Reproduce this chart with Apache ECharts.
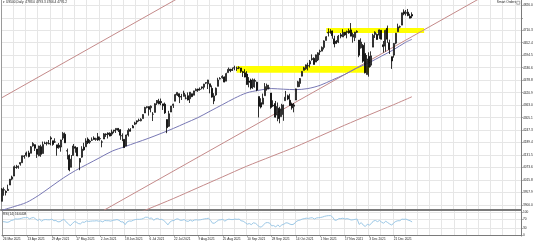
<!DOCTYPE html>
<html><head><meta charset="utf-8">
<script src="https://cdn.jsdelivr.net/npm/echarts@6/dist/echarts.min.js"></script>
<style>html,body{margin:0;padding:0;background:#fff}#c{width:536px;height:243px}</style>
</head><body><div id="c"></div>
<script>
// ---- categories (trading days) ----
const mar21=[26,29,30,31];
const apr21=[1,2,5,6,7,8,9,12,13,14,15,16,19,20,21,22,23,26,27,28,29,30];
const may21=[3,4,5,6,7,10,11,12,13,14,17,18,19,20,21,24,25,26,27,28,31];
const jun21=[1,2,3,4,7,8,9,10,11,14,15,16,17,18,21,22,23,24,25,28,29,30];
const jul21=[1,2,5,6,7,8,9,12,13,14,15,16,19,20,21,22,23,26,27,28,29,30];
const aug21=[2,3,4,5,6,9,10,11,12,13,16,17,18,19,20,23,24,25,26,27,30,31];
const sep21=[1,2,3,6,7,8,9,10,13,14,15,16,17,20,21,22,23,24,27,28,29,30];
const oct21=[1,4,5,6,7,8,11,12,13,14,15,18,19,20,21,22,25,26,27,28,29];
const nov21=[1,2,3,4,5,8,9,10,11,12,15,16,17,18,19,22,23,24,25,26,29,30];
const dec21=[1,2,3,6,7,8,9,10,13,14,15,16,17,20,21,22,23,24,27,28,29,30,31];
const jan22=[3];

// ---- OHLC ----
const opens=[3917.1,3969.3,3963.3,3967.3,3992.8,4020.0,4034.4,4075.6,4074.3,4089.9,
4096.1,4124.7,4130.1,4141.6,4139.8,4174.1,4179.8,4159.2,4128.4,4170.5,
4138.8,4185.0,4188.3,4185.1,4206.1,4198.1,4192.0,4179.0,4177.1,4169.1,
4210.3,4228.3,4150.3,4130.6,4075.0,4129.6,4169.9,4165.9,4098.5,4122.0,
4168.6,4170.2,4205.9,4191.6,4201.9,4210.8,4204.0,4216.5,4206.8,4191.4,
4206.1,4229.3,4233.8,4233.0,4228.6,4242.9,4248.3,4255.3,4248.9,4220.4,
4204.8,4173.4,4224.6,4249.3,4257.0,4274.5,4284.9,4293.2,4290.7,4300.7,
4326.6,4352.0,4356.5,4351.0,4321.1,4329.4,4372.4,4381.1,4380.1,4369.0,
4367.4,4296.4,4265.1,4331.1,4361.3,4381.2,4409.6,4416.4,4403.0,4403.6,
4395.1,4406.9,4392.7,4416.0,4408.9,4429.1,4437.8,4435.8,4442.2,4446.1,
4464.8,4461.7,4462.1,4440.9,4382.4,4410.6,4450.3,4484.4,4490.5,4493.8,
4474.1,4513.8,4529.8,4528.8,4534.5,4532.4,4535.0,4535.4,4518.1,4513.0,
4506.9,4474.8,4479.3,4447.5,4477.1,4469.7,4403.0,4374.5,4367.4,4406.8,
4438.0,4442.1,4419.5,4362.4,4370.7,4317.2,4348.8,4309.9,4319.6,4383.7,
4406.5,4385.4,4368.3,4358.0,4386.8,4447.7,4463.7,4497.3,4524.4,4532.2,
4546.1,4553.7,4578.7,4580.2,4562.8,4572.9,4610.6,4613.3,4630.7,4662.9,
4699.3,4701.5,4707.3,4670.3,4659.4,4655.2,4689.3,4679.4,4701.5,4700.7,
4708.4,4712.0,4678.5,4675.8,4701.0,4664.6,4628.8,4640.2,4602.8,4504.7,
4589.5,4548.4,4632.0,4690.9,4691.0,4687.6,4710.3,4643.0,4636.5,4719.1,
4652.5,4587.9,4595.0,4650.4,4703.1,4725.0,4734.0,4795.5,4788.6,4794.2,
4775.2,4783.0];
const highs=[3978.2,3981.8,3968.0,3994.4,4020.6,4036.0,4083.4,4086.2,4083.1,4098.2,
4129.5,4131.8,4148.0,4151.7,4173.5,4191.3,4180.8,4159.2,4175.0,4179.6,
4194.2,4194.2,4193.4,4201.5,4218.8,4198.1,4209.4,4179.0,4187.7,4202.7,
4238.0,4236.4,4162.0,4134.7,4131.6,4183.1,4171.9,4169.1,4116.9,4172.8,
4188.7,4209.5,4213.4,4202.6,4213.4,4218.4,4212.0,4234.1,4217.4,4200.2,
4233.5,4232.3,4236.7,4237.1,4249.7,4248.4,4255.6,4257.2,4251.9,4232.3,
4204.8,4226.2,4255.8,4256.6,4271.3,4286.1,4292.1,4300.5,4302.4,4320.7,
4355.4,4358.0,4356.5,4361.9,4330.9,4372.0,4386.7,4392.4,4393.7,4369.0,
4375.1,4296.4,4336.8,4359.7,4369.9,4415.2,4422.7,4416.4,4415.5,4430.0,
4412.3,4422.2,4423.8,4416.2,4429.8,4440.8,4439.4,4445.2,4449.4,4461.8,
4468.4,4480.3,4462.1,4454.3,4418.6,4444.4,4489.9,4492.8,4501.7,4495.9,
4513.3,4537.4,4531.4,4537.1,4545.9,4541.5,4543.0,4535.4,4521.8,4529.9,
4520.5,4493.0,4485.7,4486.9,4485.9,4471.5,4403.0,4394.9,4416.8,4465.4,
4463.1,4457.3,4419.5,4385.6,4382.6,4375.2,4355.5,4369.2,4365.6,4429.0,
4412.0,4415.9,4374.9,4372.9,4439.7,4475.8,4488.8,4520.4,4540.9,4551.4,
4559.7,4572.6,4598.5,4584.6,4597.6,4608.1,4620.3,4635.2,4663.5,4683.0,
4718.5,4714.9,4708.5,4684.9,4664.6,4688.5,4697.4,4715.0,4701.5,4708.8,
4717.8,4743.8,4699.4,4702.9,4710.0,4664.6,4673.0,4646.0,4652.9,4595.5,
4608.0,4612.6,4694.0,4705.1,4695.3,4713.6,4710.3,4660.5,4712.6,4732.0,
4666.7,4587.9,4651.1,4697.7,4740.7,4732.0,4791.5,4807.0,4804.1,4808.9,
4786.8,4793.3];
const lows=[3917.1,3943.3,3944.4,3966.0,3992.8,4015.0,4034.4,4068.1,4068.3,4082.5,
4095.5,4114.8,4124.4,4120.9,4139.8,4170.8,4150.5,4118.4,4126.4,4123.7,
4138.8,4182.4,4176.2,4181.8,4176.8,4174.9,4188.0,4128.6,4160.9,4147.3,
4201.6,4188.1,4111.5,4056.6,4075.0,4129.6,4142.7,4126.0,4061.4,4119.0,
4151.7,4170.2,4182.5,4184.1,4197.8,4203.6,4198.0,4197.6,4198.3,4167.7,
4206.1,4215.7,4208.4,4218.7,4220.3,4233.0,4234.1,4238.4,4202.5,4196.1,
4164.4,4173.4,4217.3,4241.4,4257.0,4271.2,4274.7,4287.0,4288.0,4300.7,
4326.6,4348.0,4314.4,4329.8,4289.4,4329.4,4364.0,4366.9,4362.4,4340.7,
4322.5,4233.1,4262.1,4331.1,4350.1,4381.2,4405.5,4372.5,4387.0,4403.6,
4389.9,4384.8,4373.0,4400.2,4408.9,4429.1,4424.7,4430.0,4436.4,4435.5,
4460.8,4437.7,4417.8,4397.6,4367.7,4406.8,4450.3,4482.7,4485.7,4469.0,
4474.1,4513.8,4515.8,4522.0,4524.7,4521.9,4530.0,4513.0,4494.0,4492.1,
4457.7,4445.7,4435.5,4438.4,4443.8,4427.8,4305.9,4348.0,4367.4,4406.8,
4430.3,4436.2,4346.3,4355.1,4306.2,4288.5,4278.9,4309.9,4290.5,4383.7,
4386.2,4360.6,4342.1,4329.9,4386.8,4447.7,4447.5,4496.4,4524.4,4526.9,
4524.0,4537.4,4569.2,4551.7,4562.8,4567.6,4595.1,4613.3,4621.2,4662.6,
4681.3,4694.4,4670.9,4630.9,4648.3,4650.8,4672.9,4679.4,4684.4,4672.8,
4694.2,4682.2,4652.7,4659.9,4698.0,4585.4,4625.3,4560.0,4510.3,4504.7,
4495.1,4540.5,4632.0,4674.5,4666.0,4670.2,4667.6,4606.5,4611.2,4651.9,
4600.2,4531.1,4583.2,4645.5,4703.1,4720.0,4734.0,4780.0,4778.1,4775.3,
4765.8,4766.4];
const closes=[3974.5,3971.1,3958.6,3972.9,4019.9,4030.0,4077.9,4073.9,4079.9,4097.2,
4128.8,4128.0,4141.6,4124.7,4170.4,4185.5,4163.3,4134.9,4173.4,4135.0,
4180.2,4187.6,4186.7,4183.2,4211.5,4181.2,4192.7,4164.7,4167.6,4201.6,
4232.6,4188.4,4152.1,4063.0,4112.5,4173.9,4163.3,4127.8,4115.7,4159.1,
4155.9,4197.1,4188.1,4196.0,4200.9,4204.1,4208.0,4202.0,4208.1,4192.9,
4229.9,4226.5,4227.3,4219.6,4239.2,4247.4,4255.2,4246.6,4223.7,4221.9,
4166.5,4224.8,4246.4,4241.8,4266.5,4280.7,4290.6,4291.8,4297.5,4319.9,
4352.3,4356.0,4343.5,4358.1,4320.8,4369.6,4384.6,4369.2,4374.3,4360.0,
4327.2,4258.5,4323.1,4358.7,4367.5,4411.8,4422.3,4401.5,4400.6,4419.2,
4395.3,4387.2,4423.2,4402.7,4429.1,4436.5,4432.4,4436.8,4447.7,4460.8,
4468.0,4479.7,4448.1,4400.3,4405.8,4441.7,4479.5,4486.2,4496.2,4470.0,
4509.4,4528.8,4522.7,4524.1,4537.0,4535.4,4537.0,4520.0,4514.1,4493.3,
4458.6,4468.7,4443.1,4480.7,4473.8,4433.0,4357.7,4354.2,4395.6,4449.0,
4455.5,4443.1,4352.6,4359.5,4307.5,4357.0,4300.5,4345.7,4363.6,4399.8,
4391.3,4361.2,4350.7,4363.8,4438.3,4471.4,4486.5,4519.6,4536.2,4549.8,
4544.9,4566.5,4574.8,4551.7,4596.4,4605.4,4613.7,4630.7,4660.6,4680.1,
4697.5,4701.7,4685.3,4646.7,4649.3,4682.9,4682.8,4700.9,4688.7,4704.5,
4698.0,4682.9,4690.7,4701.5,4705.0,4594.6,4655.3,4567.0,4513.0,4577.1,
4538.4,4591.7,4686.8,4701.2,4667.5,4712.0,4669.0,4634.1,4709.9,4668.7,
4620.6,4568.0,4649.2,4696.6,4725.8,4727.0,4791.2,4786.4,4793.1,4778.7,
4766.2,4776.2];

// ---- RSI(14) ----
const rsi=[58,57,55,57,63,65,70,69,70,72,
75,75,76,70,74,76,70,63,68,60,
66,67,66,66,69,62,63,57,58,64,
68,57,50,40,49,58,56,50,48,56,
55,61,59,60,61,61,62,60,61,57,
63,62,62,60,64,65,67,64,57,57,
45,57,61,60,64,67,68,68,69,72,
77,77,72,74,64,70,72,67,68,63,
55,44,56,62,63,69,70,64,64,67,
61,59,65,60,65,66,65,66,68,70,
71,73,63,51,52,59,65,66,68,60,
66,69,67,67,69,68,69,62,60,54,
47,50,45,53,51,44,35,35,44,53,
54,52,40,41,35,44,36,44,47,53,
52,47,45,48,58,63,65,69,71,73,
72,74,75,69,74,75,76,78,81,83,
84,84,77,64,65,71,71,73,69,71,
69,65,66,68,69,46,54,43,37,47,
43,50,61,63,58,63,56,51,60,54,
48,43,53,59,62,62,69,68,69,65,62,56.6408];

// ---- moving averages: [barIndex, price] ----
const ma50=[[0,3876],[6,3893],[12,3912],[18,3945],[24,3985],[30,4025],[36,4060],[42,4090],[48,4120],[54,4150],[60,4170],[66,4190],[72,4210],[78,4232],[84,4255],[90,4280],[96,4305],[102,4335],[108,4365],[114,4395],[120,4420],[126,4432],[132,4440],[138,4437],[144,4435],[150,4440],[156,4455],[162,4480],[168,4505],[174,4535],[180,4560],[186,4590],[192,4620],[198,4655],[201,4668]];
const ma200=[[66,3860],[72,3883],[84,3930],[96,3980],[108,4030],[120,4080],[132,4125],[144,4170],[156,4220],[168,4270],[180,4318],[192,4365],[201,4402]];

// ---- drawn objects: trend lines and zones [barIndex, price] ----
const trendTop=[[0,4398],[90,4878]];
const trendMid=[[50,3876],[236,4867]];
const zoneLow=[[115,4544.5],[180,4513.5]];
const zoneHigh=[[159,4720.5],[207,4698]];

// ---- axis ticks ----
const yTicks=[3900.0,3957.9,4015.8,4073.6,4131.5,4189.4,4247.3,4305.1,4363.0,4420.9,4478.8,4536.6,4594.5,4652.4,4710.3,4768.1,4826.0];
const yLabels=[3900.0,3957.9,4015.8,4073.6,4131.5,4189.4,4247.3,4305.1,4363.0,4420.9,4478.8,4536.6,4594.5,4652.4,4710.3,4826.0];
const rsiTicks=[0,30,70,100];

const monthNames=['Mar','Apr','May','Jun','Jul','Aug','Sep','Oct','Nov','Dec','Jan'];
const monthDays=[mar21,apr21,may21,jun21,jul21,aug21,sep21,oct21,nov21,dec21,jan22];
const dates=[];
monthDays.forEach((days,mi)=>days.forEach(d=>dates.push(d+' '+monthNames[mi]+' '+(mi===10?'2022':'2021'))));

const N=dates.length;
const SLOTS=255;
const cats=dates.concat(new Array(SLOTS-N).fill(''));
const candle=opens.map((o,i)=>[o,closes[i],lows[i],highs[i]]);

const F='Liberation Sans';
const txt={fontFamily:F,fontSize:3.2,color:'#222',fontWeight:'normal'};
const GL='#e6e6e6';
const AX='#7a7a7a';
const BROWN='#c48a8a';

const chart=echarts.init(document.getElementById('c'),null,{renderer:'canvas'});
chart.setOption({
  animation:false,
  backgroundColor:'#fff',
  title:[
    {text:'▾ US500,Daily  '+opens[N-1].toFixed(1)+' '+highs[N-1].toFixed(1)+' '+lows[N-1].toFixed(1)+' '+closes[N-1].toFixed(1),left:3,top:1,padding:0,textStyle:txt},
    {text:'RSI(14) '+rsi[N-1].toFixed(4),left:3,top:212.5,padding:0,textStyle:txt},
    {text:'Smart Orders',right:20,top:1,padding:0,textStyle:txt}
  ],
  graphic:[{type:'rect',right:16,top:1,shape:{width:3,height:3},style:{fill:'#fff',stroke:'#666',lineWidth:0.5}}],
  grid:[
    {left:1,right:15,top:0,height:210},
    {left:1,right:15,top:211,height:25}
  ],
  xAxis:[
    {type:'category',gridIndex:0,data:cats,boundaryGap:true,
     axisLine:{show:true,lineStyle:{color:AX,width:2}},axisTick:{show:false},axisLabel:{show:false},
     splitLine:{show:true,interval:5,lineStyle:{color:GL,width:1}}},
    {type:'category',gridIndex:1,data:cats,boundaryGap:true,
     axisLine:{show:true,lineStyle:{color:AX,width:1}},
     axisTick:{show:true,alignWithLabel:true,length:2,interval:(i,v)=>i%12===0&&v!=='',lineStyle:{color:AX,width:0.6}},
     axisLabel:{show:true,interval:(i,v)=>i%12===0&&v!=='',align:'left',margin:2,...txt},
     splitLine:{show:true,interval:5,lineStyle:{color:GL,width:1}}}
  ],
  yAxis:[
    {type:'value',gridIndex:0,position:'right',min:3877,max:4850.5,
     axisLine:{show:true,lineStyle:{color:AX,width:1}},
     axisTick:{show:true,length:2,customValues:yTicks,lineStyle:{color:AX,width:0.6}},
     axisLabel:{show:true,customValues:yLabels,formatter:v=>v.toFixed(1),margin:2,...txt},
     splitLine:{show:true,lineStyle:{color:GL,width:1}}},
    {type:'value',gridIndex:0,position:'left',min:3877,max:4850.5,
     axisLine:{show:true,lineStyle:{color:'#9a9a9a',width:1}},axisTick:{show:false},axisLabel:{show:false},splitLine:{show:false}},
    {type:'value',gridIndex:1,position:'right',min:-4,max:104,
     axisLine:{show:true,lineStyle:{color:AX,width:1}},
     axisTick:{show:true,length:2,customValues:rsiTicks,lineStyle:{color:AX,width:0.6}},
     axisLabel:{show:true,customValues:rsiTicks,formatter:v=>String(v),margin:2,...txt},
     splitLine:{show:true,lineStyle:{color:GL,width:1}}},
    {type:'value',gridIndex:1,position:'left',min:-4,max:104,
     axisLine:{show:true,lineStyle:{color:'#9a9a9a',width:1}},axisTick:{show:false},axisLabel:{show:false},splitLine:{show:false}}
  ],
  series:[
    {type:'line',xAxisIndex:0,yAxisIndex:0,data:[],z:1,silent:true,
     markArea:{silent:true,itemStyle:{color:'#ffff00',opacity:1},
       data:[[{coord:zoneLow[0]},{coord:zoneLow[1]}],[{coord:zoneHigh[0]},{coord:zoneHigh[1]}]]}},
    {type:'line',name:'trendTop',xAxisIndex:0,yAxisIndex:0,data:trendTop,symbol:'none',silent:true,z:2,
     lineStyle:{color:BROWN,width:1}},
    {type:'line',name:'trendMid',xAxisIndex:0,yAxisIndex:0,data:trendMid,symbol:'none',silent:true,z:2,
     lineStyle:{color:BROWN,width:1}},
    {type:'line',name:'ma200',xAxisIndex:0,yAxisIndex:0,data:ma200,symbol:'none',silent:true,z:2,smooth:0.3,
     lineStyle:{color:BROWN,width:1}},
    {type:'line',name:'ma50',xAxisIndex:0,yAxisIndex:0,data:ma50,symbol:'none',silent:true,z:2,smooth:0.3,
     lineStyle:{color:'#7878b4',width:1}},
    {type:'candlestick',xAxisIndex:0,yAxisIndex:0,data:candle,barWidth:1.5,z:3,silent:true,
     itemStyle:{color:'#ffffff',color0:'#000000',borderColor:'#000000',borderColor0:'#000000',borderWidth:0.8},
     markLine:{silent:true,symbol:['none','none'],lineStyle:{opacity:0},
       label:{show:true,position:'end',distance:1,formatter:closes[N-1].toFixed(1),backgroundColor:'#000',color:'#fff',
         fontFamily:F,fontSize:3.2,padding:[1,2,1,2]},
       data:[{yAxis:closes[N-1]}]}},
    {type:'line',name:'rsi',xAxisIndex:1,yAxisIndex:2,data:rsi,symbol:'none',silent:true,
     lineStyle:{color:'#9cc8e6',width:1}}
  ]
});
</script></body></html>
